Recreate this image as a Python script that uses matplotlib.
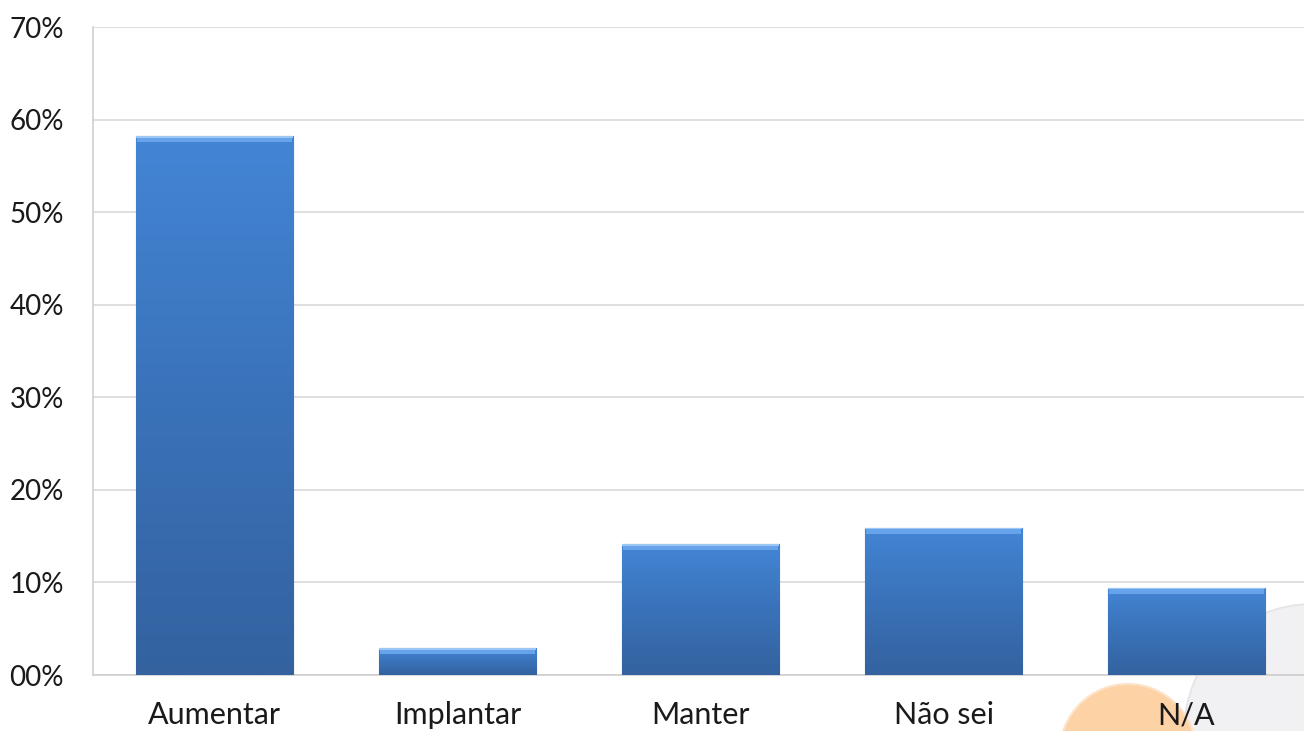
import matplotlib
matplotlib.use("Agg")
import matplotlib.pyplot as plt
import numpy as np
from matplotlib.colors import LinearSegmentedColormap
from matplotlib.patches import Circle

categories = ["Aumentar", "Implantar", "Manter", "Não sei", "N/A"]
values = [0.582, 0.029, 0.1415, 0.159, 0.094]
yticks = [0.0, 0.1, 0.2, 0.3, 0.4, 0.5, 0.6, 0.7]
ytick_labels = ["00%", "10%", "20%", "30%", "40%", "50%", "60%", "70%"]

W, H = 1304, 731
fig = plt.figure(figsize=(W / 100, H / 100), dpi=100)
fig.patch.set_facecolor("white")

# background decorations (in figure pixels)
bg = fig.add_axes([0, 0, 1, 1], zorder=0)
bg.set_xlim(0, W)
bg.set_ylim(H, 0)
bg.axis("off")
bg.add_patch(Circle((1312, 732), 128, facecolor="#F1F1F3", edgecolor="#E4E4E6", lw=1.2))
bg.add_patch(Circle((1128, 752), 68, facecolor="#FDD3A6", edgecolor="#FCE3C8", lw=1.5))

left_px, right_px, top_px, bot_px = 93, 1304, 27, 675
ax = fig.add_axes([left_px / W, 1 - bot_px / H, (right_px - left_px) / W, (bot_px - top_px) / H], zorder=1)
ax.patch.set_alpha(0)
x = np.arange(len(categories))

bars = ax.bar(x, values, width=0.65, color="#3D78C2", edgecolor="#2E5A92", linewidth=0.8, zorder=3)

cmap = LinearSegmentedColormap.from_list("g", ["#33629F", "#3A72B9", "#4385D5"])
grad = np.linspace(0, 1, 256).reshape(-1, 1)
px_per_unit = (bot_px - top_px) / 0.7
for b in bars:
    x0, w, h = b.get_x(), b.get_width(), b.get_height()
    im = ax.imshow(grad, cmap=cmap, origin="lower", aspect="auto",
                   extent=(x0, x0 + w, 0, h), zorder=3.1)
    im.set_clip_path(b)
    d = 6 / px_per_unit
    ax.bar(x0 + w / 2, d, bottom=h - d, width=w * 0.985, color="#67A3EA",
           edgecolor="none", zorder=3.2)
    ax.bar(x0 + w / 2, 1.5 / px_per_unit, bottom=h - 1.5 / px_per_unit, width=w,
           color="#9CC6F4", edgecolor="none", zorder=3.3)
ax.set_xlim(-0.5, len(categories) - 0.5 - 4 / 243)
ax.set_ylim(0, 0.7)

ax.set_yticks(yticks)
ax.set_yticklabels(ytick_labels)
ax.set_xticks(x)
ax.set_xticklabels(categories)
ax.grid(axis="y", color="#D9D9D9", linewidth=1.2, zorder=0)
ax.set_axisbelow(True)
for s in ["top", "right"]:
    ax.spines[s].set_visible(False)
ax.spines["left"].set_color("#CFCFCF")
ax.spines["bottom"].set_color("#CFCFCF")
ax.spines["left"].set_linewidth(1.2)
ax.spines["bottom"].set_linewidth(1.2)
ax.tick_params(axis="both", length=0, labelcolor="#1A1A1A")
ax.tick_params(axis="y", pad=21, labelsize=20)
ax.tick_params(axis="x", pad=19, labelsize=22)
for lab in ax.get_xticklabels() + ax.get_yticklabels():
    lab.set_family("Lato")

fig.savefig("out.png", dpi=100, facecolor="white")
